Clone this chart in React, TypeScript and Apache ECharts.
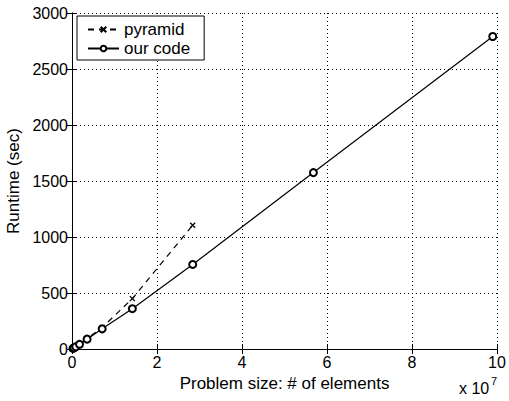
import React, { useEffect, useRef } from "react";
import * as echarts from "echarts";

const ourX = [0.022, 0.044, 0.089, 0.177, 0.355, 0.71, 1.42, 2.84, 5.68, 9.9];
const ourY = [5, 10, 20, 42, 88, 180, 360, 755, 1575, 2790];
const pyrX = [0.022, 0.044, 0.089, 0.177, 0.355, 0.71, 1.42, 2.84];
const pyrY = [5, 11, 22, 46, 95, 192, 450, 1105];
const xTicks = [0, 2, 4, 6, 8, 10];
const yTicks = [0, 500, 1000, 1500, 2000, 2500, 3000];

const FONT = "'Liberation Sans', Arial, Helvetica, sans-serif";
const X_SYM = "path://M0,0L10,10M10,0L0,10";

export default function App() {
  const ref = useRef<HTMLDivElement>(null);
  useEffect(() => {
    if (!ref.current) return;
    const chart = echarts.init(ref.current, undefined, { renderer: "svg" });
    const grid = { left: 72, right: 12, top: 13, bottom: 52, containLabel: false, outerBoundsMode: "none" };
    const baseAxisLine = { show: true, lineStyle: { color: "#000", width: 1 } };
    chart.setOption({
      animation: false,
      backgroundColor: "#fff",
      textStyle: { fontFamily: FONT },
      grid,
      legend: {
        orient: "vertical",
        left: 77,
        top: 16,
        padding: [5, 14, 3, 10],
        itemGap: 2,
        itemWidth: 31,
        itemHeight: 7,
        backgroundColor: "#fff",
        borderColor: "#000",
        borderWidth: 1,
        borderRadius: 0,
        textStyle: { fontFamily: FONT, fontSize: 17, color: "#000" },
        data: ["pyramid", "our code"],
      },
      xAxis: [
        {
          type: "value",
          min: 0,
          max: 10,
          interval: 2,
          position: "bottom",
          axisLine: baseAxisLine,
          axisTick: { show: true, inside: true, length: 5, lineStyle: { color: "#000" } },
          axisLabel: { color: "#000", fontSize: 16, fontFamily: FONT, margin: 5, formatter: (v: number) => (xTicks.includes(v) ? String(v) : "") },
          splitLine: { show: true, lineStyle: { color: "#000", type: [1, 3], width: 1 } },
          name: "Problem size: # of elements",
          nameLocation: "middle",
          nameGap: 23,
          nameTextStyle: { color: "#000", fontSize: 17, fontFamily: FONT },
        },
        {
          type: "value",
          min: 0,
          max: 10,
          interval: 2,
          position: "top",
          axisLine: baseAxisLine,
          axisTick: { show: true, inside: true, length: 5, lineStyle: { color: "#000" } },
          axisLabel: { show: false },
          splitLine: { show: false },
        },
      ],
      yAxis: [
        {
          type: "value",
          min: 0,
          max: 3000,
          interval: 500,
          position: "left",
          axisLine: baseAxisLine,
          axisTick: { show: true, inside: true, length: 5, lineStyle: { color: "#000" } },
          axisLabel: { color: "#000", fontSize: 16, fontFamily: FONT, margin: 4, formatter: (v: number) => (yTicks.includes(v) ? String(v) : "") },
          splitLine: { show: true, lineStyle: { color: "#000", type: [1, 3], width: 1 } },
          name: "Runtime (sec)",
          nameLocation: "middle",
          nameGap: 43,
          nameTextStyle: { color: "#000", fontSize: 17, fontFamily: FONT },
        },
        {
          type: "value",
          min: 0,
          max: 3000,
          interval: 500,
          position: "right",
          axisLine: baseAxisLine,
          axisTick: { show: true, inside: true, length: 5, lineStyle: { color: "#000" } },
          axisLabel: { show: false },
          splitLine: { show: false },
        },
      ],
      graphic: [
        {
          type: "text",
          left: 459,
          top: 380,
          style: {
            text: "x 10",
            fill: "#000",
            font: `16px ${FONT}`,
          },
        },
        {
          type: "text",
          left: 491,
          top: 375,
          style: {
            text: "7",
            fill: "#000",
            font: `11px ${FONT}`,
          },
        },
      ],
      series: [
        {
          name: "pyramid",
          type: "line",
          data: pyrX.map((x, i) => [x, pyrY[i]]),
          symbol: X_SYM,
          symbolSize: 5,
          showAllSymbol: true,
          lineStyle: { color: "#000", width: 1.2, type: [6, 5] },
          itemStyle: { color: "#000", borderColor: "#000", borderWidth: 1.3 },
          z: 3,
        },
        {
          name: "our code",
          type: "line",
          data: ourX.map((x, i) => [x, ourY[i]]),
          symbol: "emptyCircle",
          symbolSize: 7,
          showAllSymbol: true,
          lineStyle: { color: "#000", width: 1.2 },
          itemStyle: { color: "#000", borderColor: "#000", borderWidth: 1.1 },
          z: 4,
        },
      ],
    });
    return () => chart.dispose();
  }, []);
  return <div ref={ref} style={{ width: 509, height: 401, position: "absolute", left: 0, top: 0 }} />;
}
